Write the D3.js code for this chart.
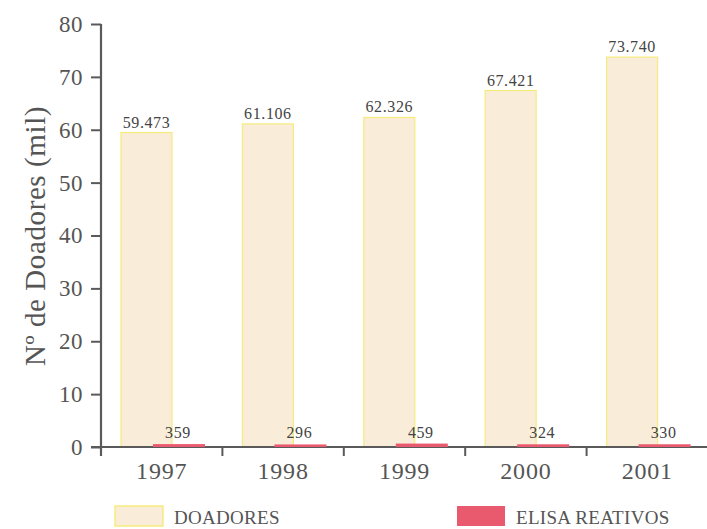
<!DOCTYPE html>
<html>
<head>
<meta charset="utf-8">
<script src="https://cdn.jsdelivr.net/npm/d3@7"></script>
<style>
  html, body { margin: 0; padding: 0; background: #fff; }
  svg { display: block; }
</style>
</head>
<body>
<svg id="chart" width="707" height="529"></svg>
<script>
// Blood donors per year (thousands) and ELISA-reactive donors (absolute count)
const years = ["1997", "1998", "1999", "2000", "2001"];
const doadores = [59.473, 61.106, 62.326, 67.421, 73.740];
const elisaReativos = [359, 296, 459, 324, 330];
const yTicks = [0, 10, 20, 30, 40, 50, 60, 70, 80];
const legendLabels = ["DOADORES", "ELISA REATIVOS"];

const svg = d3.select("#chart");
const font = "'Liberation Serif', 'Times New Roman', serif";
const textColor = "#555";
const axisColor = "#5a5a5a";

const x = d3.scaleBand().domain(years).range([101, 708]).padding(0);
const y = d3.scaleLinear().domain([0, 80]).range([447, 24]);

const fillDoador = "#f9ecd9";
const strokeDoador = "#f6ec7c";
const fillElisa = "#ea5a6e";

// Donor bars
svg.append("g").selectAll("rect")
  .data(years)
  .join("rect")
  .attr("x", d => x(d) + 20)
  .attr("y", (d, i) => y(doadores[i]))
  .attr("width", 51)
  .attr("height", (d, i) => y(0) - y(doadores[i]))
  .attr("fill", fillDoador)
  .attr("stroke", strokeDoador)
  .attr("stroke-width", 1.2);

// Donor value labels (Brazilian thousands notation)
svg.append("g").selectAll("text")
  .data(years)
  .join("text")
  .attr("x", d => x(d) + 45.5)
  .attr("y", (d, i) => y(doadores[i]) - 5)
  .attr("text-anchor", "middle")
  .attr("font-family", font)
  .attr("font-size", 16)
  .attr("letter-spacing", 0.6)
  .attr("fill", "#444")
  .text((d, i) => doadores[i].toFixed(3));

// Y axis
const yAxis = svg.append("g")
  .attr("transform", "translate(101,0)")
  .call(d3.axisLeft(y).tickValues(yTicks).tickSize(10).tickSizeOuter(0).tickPadding(8));
yAxis.select(".domain").attr("stroke", axisColor).attr("stroke-width", 2.2)
  .attr("d", `M0,${y(80)}V${y(0) + 9}`);
yAxis.selectAll(".tick line").attr("stroke", axisColor).attr("stroke-width", 2);
yAxis.selectAll(".tick text")
  .attr("font-family", font).attr("font-size", 23).attr("letter-spacing", 0.5)
  .attr("fill", textColor);

// X axis
const xAxis = svg.append("g")
  .attr("transform", `translate(0,${y(0)})`)
  .call(d3.axisBottom(x).tickSize(0).tickPadding(15));
xAxis.select(".domain").attr("stroke", axisColor).attr("stroke-width", 2)
  .attr("d", "M91,0H707");
xAxis.selectAll(".tick text")
  .attr("font-family", font).attr("font-size", 24).attr("letter-spacing", 0.8)
  .attr("fill", textColor)
  .attr("dy", "0.71em");
// Category separators below the baseline
xAxis.append("g").selectAll("line")
  .data(years.slice(1))
  .join("line")
  .attr("x1", d => x(d)).attr("x2", d => x(d))
  .attr("y1", 0).attr("y2", 9)
  .attr("stroke", axisColor).attr("stroke-width", 2);

// ELISA-reactive bars, plotted in thousands on the same axis, above the baseline
svg.append("g").selectAll("rect")
  .data(years)
  .join("rect")
  .attr("x", d => x(d) + 52)
  .attr("y", (d, i) => y(elisaReativos[i] / 1000) - 1)
  .attr("width", 52)
  .attr("height", (d, i) => y(0) - y(elisaReativos[i] / 1000) + 1)
  .attr("fill", fillElisa);

svg.append("g").selectAll("text")
  .data(years)
  .join("text")
  .attr("x", d => x(d) + 77)
  .attr("y", (d, i) => y(elisaReativos[i] / 1000) - 7)
  .attr("text-anchor", "middle")
  .attr("font-family", font)
  .attr("font-size", 16)
  .attr("letter-spacing", 0.6)
  .attr("fill", "#444")
  .text((d, i) => elisaReativos[i]);

// Y axis title
svg.append("text")
  .attr("transform", "translate(45,236) rotate(-90)")
  .attr("text-anchor", "middle")
  .attr("font-family", font)
  .attr("font-size", 29)
  .attr("letter-spacing", 0.6)
  .attr("fill", textColor)
  .text("Nº de Doadores (mil)");

// Legend
const legend = [
  { label: legendLabels[0], x: 115, fill: fillDoador, stroke: strokeDoador },
  { label: legendLabels[1], x: 457, fill: fillElisa, stroke: "none" }
];
const lg = svg.append("g").selectAll("g").data(legend).join("g")
  .attr("transform", d => `translate(${d.x},506)`);
lg.append("rect")
  .attr("width", 48).attr("height", 20)
  .attr("fill", d => d.fill)
  .attr("stroke", d => d.stroke)
  .attr("stroke-width", 1.5);
lg.append("text")
  .attr("x", 59).attr("y", 18)
  .attr("font-family", font)
  .attr("font-size", 19)
  .attr("letter-spacing", 0.3)
  .attr("fill", textColor)
  .text(d => d.label);
</script>
</body>
</html>
